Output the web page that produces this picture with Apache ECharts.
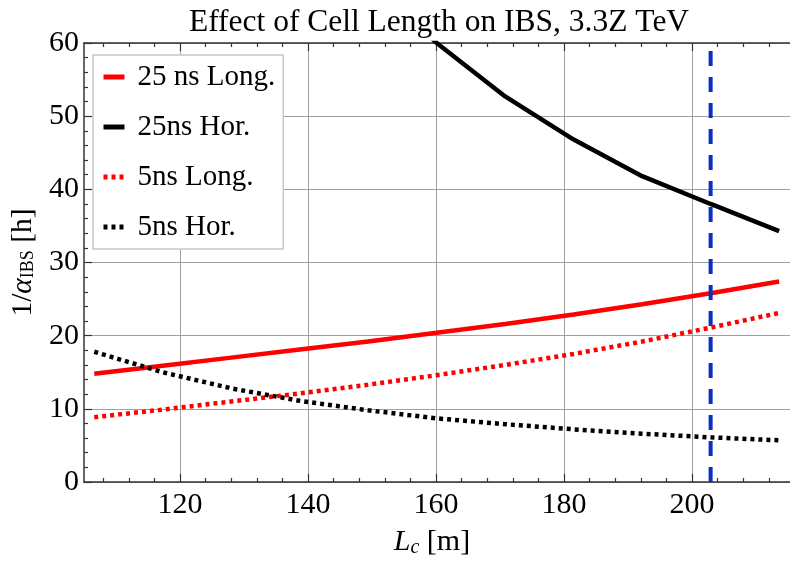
<!DOCTYPE html>
<html>
<head>
<meta charset="utf-8">
<script src="https://cdn.jsdelivr.net/npm/echarts@6/dist/echarts.min.js"></script>
<style>
html,body{margin:0;padding:0;background:#fff;}
#chart{width:790px;height:564px;}
</style>
</head>
<body>
<div id="chart"></div>
<script>
// ---- data ----
const lc      = [106.6, 117.3, 128.0, 138.7, 149.4, 160.1, 170.8, 181.5, 192.2, 202.9, 213.6];
const long25  = [14.8, 15.9, 17.0, 18.1, 19.2, 20.4, 21.6, 22.9, 24.3, 25.8, 27.4];
const hor25   = [null, null, null, null, 69.0, 60.0, 52.7, 46.8, 41.8, 38.0, 34.3];
const long5   = [8.85, 9.9, 11.0, 12.1, 13.3, 14.6, 16.0, 17.5, 19.2, 21.1, 23.1];
const hor5    = [17.8, 15.0, 12.8, 11.1, 9.8, 8.7, 7.9, 7.2, 6.6, 6.1, 5.7];
const seriesNames = ['25 ns Long.', '25ns Hor.', '5ns Long.', '5ns Hor.'];
const baselineLc = 202.9;
const baselineLabel = 'Baseline';
const baselineLabelPos = [178.6, 32.3];
const xMajorTicks = [120, 140, 160, 180, 200];
const xMinorTicks = [108, 112, 116, 124, 128, 132, 136, 144, 148, 152, 156, 164, 168, 172, 176, 184, 188, 192, 196, 204, 208, 212];
const titleText = 'Effect of Cell Length on IBS, 3.3Z TeV';

const pairs = (ys) => lc.map((x, i) => [x, ys[i]]);
const serif = 'Liberation Serif';
const XMIN = 105, XMAX = 215.3;

const chart = echarts.init(document.getElementById('chart'), null, {renderer: 'canvas'});

function tickAxis(pos, values, len, showLine, showLabel) {
  return {
    type: 'value', position: pos, min: XMIN, max: XMAX,
    axisLine: {show: showLine, onZero: false, lineStyle: {color: '#333', width: 1.5}},
    axisTick: {show: true, inside: true, length: len, customValues: values, lineStyle: {color: '#333', width: 1.2}},
    axisLabel: showLabel ? {show: true, customValues: values, fontFamily: serif, fontSize: 30, color: '#000', margin: 8} : {show: false},
    splitLine: {show: false}
  };
}

const mainX = tickAxis('bottom', xMajorTicks, 8, true, true);
mainX.splitLine = {show: true, lineStyle: {color: '#a0a0a0', width: 1}};
mainX.name = '{i|L}{sub|c}{n| [m]}';
mainX.nameLocation = 'middle';
mainX.nameGap = 44;
mainX.nameTextStyle = {
  padding: [0, 10, 0, 0],
  rich: {
    i: {fontFamily: serif, fontStyle: 'italic', fontSize: 30, color: '#000'},
    sub: {fontFamily: serif, fontStyle: 'italic', fontSize: 20, color: '#000', padding: [12, 0, 0, 0]},
    n: {fontFamily: serif, fontSize: 30, color: '#000'}
  }
};

const option = {
  animation: false,
  backgroundColor: '#fff',
  title: {
    text: titleText, left: 434, top: 2, textAlign: 'center',
    textStyle: {fontFamily: serif, fontWeight: 'normal', fontSize: 31.5, color: '#000'}
  },
  grid: {left: 84, right: 0, top: 43, bottom: 82, containLabel: false},
  legend: {
    data: seriesNames,
    orient: 'vertical', left: 93, top: 55,
    itemWidth: 21, itemHeight: 14, itemGap: 20,
    backgroundColor: '#fff', borderColor: '#c8c8c8', borderWidth: 1.5,
    padding: [7, 8, 7, 8],
    lineStyle: {width: 5},
    itemStyle: {opacity: 0, borderWidth: 0},
    textStyle: {fontFamily: serif, fontSize: 29, color: '#000', lineHeight: 30, padding: [0, 0, 0, 8]}
  },
  xAxis: [
    mainX,
    tickAxis('bottom', xMinorTicks, 4, false, false),
    tickAxis('top', xMajorTicks, 8, true, false),
    tickAxis('top', xMinorTicks, 4, false, false)
  ],
  yAxis: [{
    type: 'value', min: 0, max: 60, interval: 10,
    axisLine: {show: true, onZero: false, lineStyle: {color: '#333', width: 1.5}},
    axisTick: {show: true, inside: true, length: 8, lineStyle: {color: '#333', width: 1.2}},
    minorTick: {show: true, splitNumber: 5, length: 4, lineStyle: {color: '#333', width: 1.2}},
    axisLabel: {fontFamily: serif, fontSize: 30, color: '#000', margin: 5},
    splitLine: {show: true, lineStyle: {color: '#a0a0a0', width: 1}},
    name: '{n|1/}{g|α}{s|IBS}{n| [h]}',
    nameLocation: 'middle', nameRotate: 90, nameGap: 40,
    nameTextStyle: {
      rich: {
        n: {fontFamily: serif, fontSize: 29.5, color: '#000'},
        g: {fontFamily: serif, fontStyle: 'italic', fontSize: 29.5, color: '#000'},
        s: {fontFamily: serif, fontSize: 18, color: '#000', padding: [10, 0, 0, 0]}
      }
    }
  }],
  series: [
    {name: seriesNames[0], type: 'line', data: pairs(long25), symbol: 'none', lineStyle: {color: '#ff0000', width: 4.5}, itemStyle: {color: '#ff0000'}, z: 3},
    {name: seriesNames[1], type: 'line', data: pairs(hor25), symbol: 'none', connectNulls: false, lineStyle: {color: '#000', width: 4.5}, itemStyle: {color: '#000'}, z: 3},
    {name: seriesNames[2], type: 'line', data: pairs(long5), symbol: 'none', lineStyle: {color: '#ff0000', width: 4.5, type: [4, 4]}, itemStyle: {color: '#ff0000'}, z: 3},
    {name: seriesNames[3], type: 'line', data: pairs(hor5), symbol: 'none', lineStyle: {color: '#000', width: 4.5, type: [4, 4]}, itemStyle: {color: '#000'}, z: 3},
    {name: 'baseline', type: 'line', data: [[baselineLc, 0], [baselineLc, 60]], symbol: 'none', lineStyle: {color: '#0a2fc4', width: 4, type: [15, 11]}, z: 4},
    {name: 'baselineText', type: 'scatter', data: [baselineLabelPos], symbolSize: 1, itemStyle: {opacity: 0},
      label: {show: true, formatter: baselineLabel, position: 'right', distance: 0, fontFamily: 'Noto Sans', fontSize: 30, color: '#1a3cc0'}, z: 4}
  ]
};
chart.setOption(option);
</script>
</body>
</html>
